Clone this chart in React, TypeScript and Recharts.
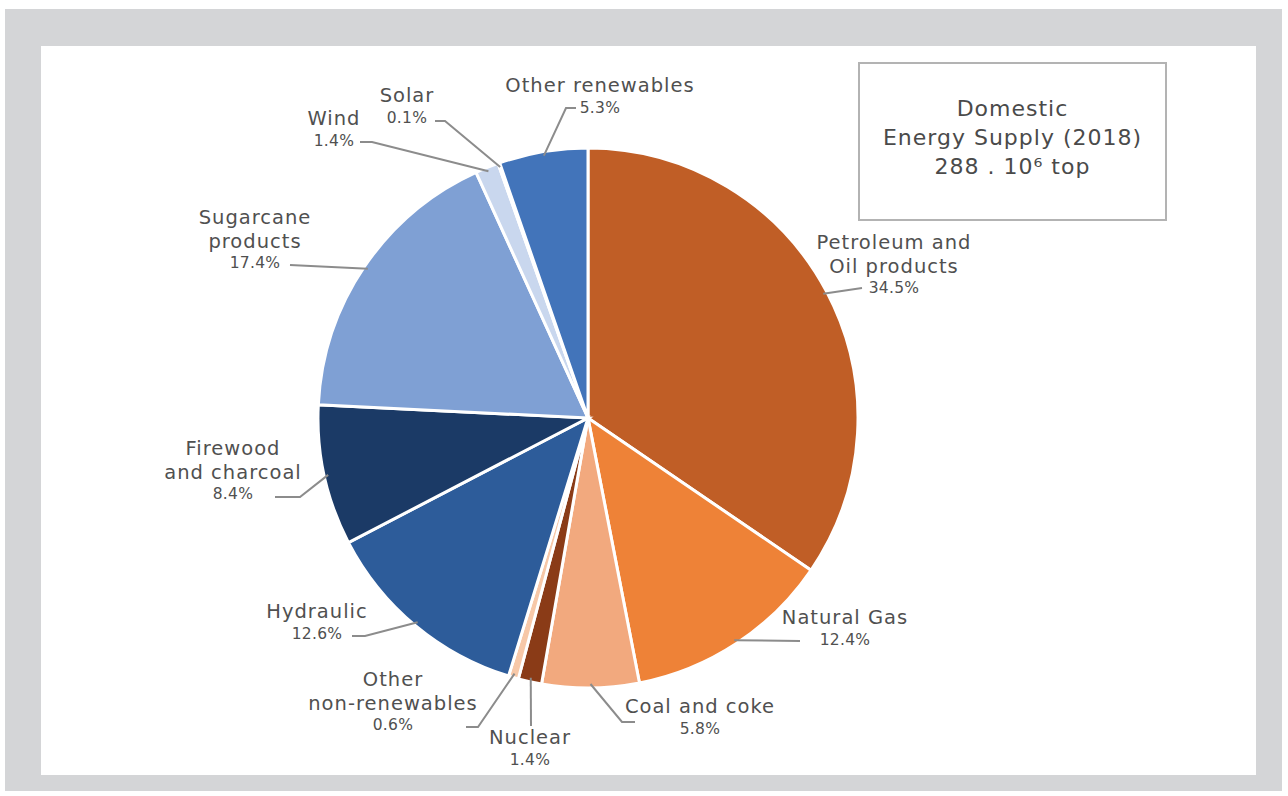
import { Cell, Pie, PieChart } from 'recharts';

const categories = [
  'Petroleum and Oil products',
  'Natural Gas',
  'Coal and coke',
  'Nuclear',
  'Other non-renewables',
  'Hydraulic',
  'Firewood and charcoal',
  'Sugarcane products',
  'Wind',
  'Solar',
  'Other renewables'
];

const shares = [34.5, 12.4, 5.8, 1.4, 0.6, 12.6, 8.4, 17.4, 1.4, 0.1, 5.3];

const labelLines = [
  ['Petroleum and', 'Oil products'],
  ['Natural Gas'],
  ['Coal and coke'],
  ['Nuclear'],
  ['Other', 'non-renewables'],
  ['Hydraulic'],
  ['Firewood', 'and charcoal'],
  ['Sugarcane', 'products'],
  ['Wind'],
  ['Solar'],
  ['Other renewables']
];

const sliceColors = [
  '#c05e26', '#ee8237', '#f2a97e', '#8a3b17', '#f7c8a8',
  '#2d5c9a', '#1b3a66', '#7fa0d4', '#c9d7ee', '#e8eef8', '#4274ba'
];

// label placement, offsets from the pie centre: text block centre, then leader line points
const labelLayout = [
  { x: 306, y: -176, path: [[274, -130]] },
  { x: 257, y: 199, path: [[212, 223]] },
  { x: 112, y: 288, path: [[34, 304], [47, 304]] },
  { x: -58, y: 319, path: [[-57, 308]] },
  { x: -195, y: 261, path: [[-110, 309], [-122, 309]] },
  { x: -271, y: 193, path: [[-223, 218], [-236, 218]] },
  { x: -355, y: 30, path: [[-288, 79], [-313, 79]] },
  { x: -333, y: -201, path: [[-298, -153]] },
  { x: -254, y: -300, path: [[-216, -276], [-228, -276]] },
  { x: -181, y: -323, path: [[-143, -297], [-153, -297]] },
  { x: 12, y: -333, path: [[-22, -310], [-12, -310]] }
];

const data = categories.map((name, i) => ({ name, value: shares[i] }));

const RAD = Math.PI / 180;
const FONT = '"DejaVu Sans", sans-serif';

function SliceLabel(props: any) {
  const { cx, cy, midAngle, outerRadius, index, value } = props;
  const layout = labelLayout[index];
  const sx = cx + (outerRadius - 4) * Math.cos(-midAngle * RAD);
  const sy = cy + (outerRadius - 4) * Math.sin(-midAngle * RAD);
  const pts = [[sx, sy], ...layout.path.map(([dx, dy]) => [cx + dx, cy + dy])];
  const lines = labelLines[index];
  const tx = cx + layout.x;
  const ty = cy + layout.y;
  return (
    <g>
      <polyline points={pts.map((p) => p.join(',')).join(' ')} fill="none" stroke="#8c8c8c" strokeWidth={2} />
      {lines.map((line, j) => (
        <text key={j} x={tx} y={ty + j * 24} textAnchor="middle" dominantBaseline="central" fill="#505050" fontSize={19.5} letterSpacing={1} fontFamily={FONT}>
          {line}
        </text>
      ))}
      <text x={tx} y={ty + lines.length * 23} textAnchor="middle" dominantBaseline="central" fill="#505050" fontSize={15.5} letterSpacing={0.3} fontFamily={FONT}>
        {`${value}%`}
      </text>
    </g>
  );
}

export default function App() {
  return (
    <div style={{ position: 'absolute', left: 0, top: 0, width: 1288, height: 796, background: '#fff' }}>
      <div style={{ position: 'absolute', left: 5, top: 9, width: 1277, height: 782, background: '#d4d5d7' }} />
      <div style={{ position: 'absolute', left: 41, top: 46, width: 1215, height: 729, background: '#fff' }} />
      <div style={{ position: 'absolute', left: 0, top: 0 }}>
        <PieChart width={1288} height={796} margin={{ top: 0, right: 0, bottom: 0, left: 0 }}>
          <Pie
            data={data}
            dataKey="value"
            nameKey="name"
            cx={588}
            cy={418}
            outerRadius={270}
            startAngle={90}
            endAngle={-270}
            stroke="#fff"
            strokeWidth={3}
            label={SliceLabel}
            labelLine={false}
            isAnimationActive={false}
          >
            {data.map((d, i) => (
              <Cell key={d.name} fill={sliceColors[i]} />
            ))}
          </Pie>
        </PieChart>
      </div>
      <div
        style={{
          position: 'absolute', left: 858, top: 62, width: 309, height: 159, boxSizing: 'border-box',
          border: '2px solid #b3b3b3', paddingTop: 30, textAlign: 'center', fontFamily: FONT,
          fontSize: 22, letterSpacing: 1, lineHeight: '29px', color: '#4a4a4a'
        }}
      >
        <div>Domestic</div>
        <div>Energy Supply (2018)</div>
        <div>288 . 10⁶ top</div>
      </div>
    </div>
  );
}
